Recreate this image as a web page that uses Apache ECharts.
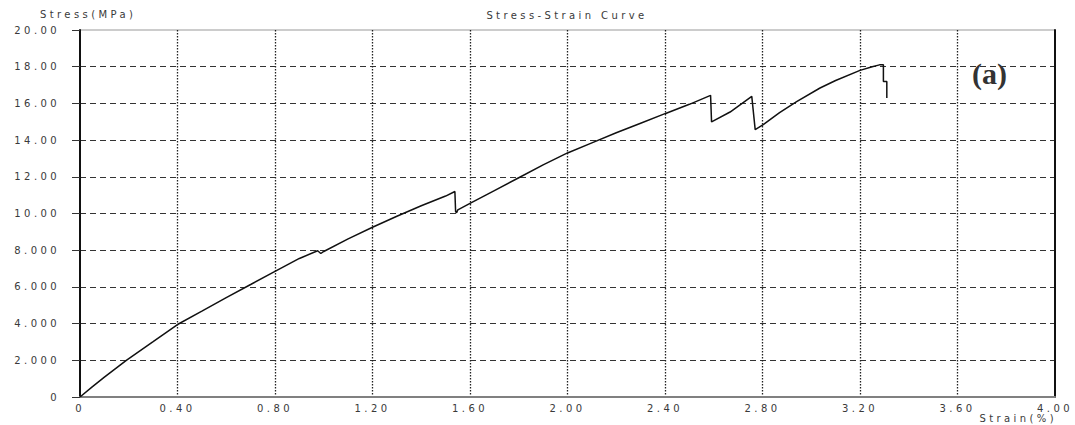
<!DOCTYPE html>
<html>
<head>
<meta charset="utf-8">
<script src="https://cdn.jsdelivr.net/npm/echarts@6/dist/echarts.min.js"></script>
<style>
  html, body { margin: 0; padding: 0; background: #fff; }
  #chart { width: 1075px; height: 425px; }
  #chart svg text { letter-spacing: 3.4px; }
</style>
</head>
<body>
<div id="chart"></div>
<script>
// ---- data ----
const strain = [0, 0.05, 0.1, 0.19, 0.3, 0.4, 0.5, 0.6, 0.7, 0.8, 0.9, 0.975, 0.988, 1.0, 1.1, 1.2, 1.3, 1.4, 1.5, 1.538,
  1.541, 1.545, 1.55, 1.6, 1.7, 1.8, 1.9, 2.0, 2.1, 2.2, 2.3, 2.4, 2.5, 2.587, 2.591, 2.667, 2.756, 2.77, 2.803, 2.87,
  2.94, 3.036, 3.1, 3.2, 3.25, 3.28, 3.296, 3.296, 3.31, 3.31];
const stress = [0, 0.55, 1.08, 2.0, 3.02, 3.95, 4.68, 5.42, 6.13, 6.85, 7.55, 7.97, 7.82, 7.93, 8.62, 9.25, 9.85, 10.42, 10.95, 11.2,
  10.1, 10.05, 10.2, 10.55, 11.25, 11.95, 12.65, 13.3, 13.85, 14.4, 14.92, 15.44, 15.95, 16.44, 14.99, 15.53, 16.38, 14.57, 14.84, 15.5,
  16.1, 16.84, 17.25, 17.8, 18.0, 18.1, 18.1, 17.2, 17.2, 16.3];
const xTickLabels = ["0", "0.40", "0.80", "1.20", "1.60", "2.00", "2.40", "2.80", "3.20", "3.60", "4.00"];
const yTickLabels = ["0", "2.000", "4.000", "6.000", "8.000", "10.00", "12.00", "14.00", "16.00", "18.00", "20.00"];
const chartTitle = "Stress-Strain Curve";
const xName = "Strain(%)";
const yName = "Stress(MPa)";
const panelLabel = "(a)";

const points = strain.map((s, i) => [s, stress[i]]);
const FONT = '"DejaVu Sans", sans-serif';
const TXT = '#3a3a3a';

const chart = echarts.init(document.getElementById('chart'), null, { renderer: 'svg' });
chart.setOption({
  animation: false,
  backgroundColor: '#fff',
  title: {
    text: chartTitle,
    left: 567, top: 10, textAlign: 'center', padding: 0,
    textStyle: { fontFamily: FONT, fontSize: 10, fontWeight: 'normal', color: TXT }
  },
  grid: {
    left: 80, right: 20, top: 30, bottom: 28, containLabel: false, outerBoundsMode: 'none',
    show: true, borderColor: '#999', borderWidth: 1, backgroundColor: 'transparent'
  },
  xAxis: [{
    type: 'value', min: 0, max: 4, interval: 0.4,
    axisLine: { show: true, lineStyle: { color: '#808080', width: 2 } },
    axisTick: { show: false },
    axisLabel: {
      margin: 6, fontFamily: FONT, fontSize: 10, color: TXT,
      formatter: (v) => xTickLabels[Math.round(v / 0.4)]
    },
    splitLine: { show: true, showMinLine: false, showMaxLine: false, lineStyle: { color: '#222', width: 1.3, type: [1.5, 1.5] } }
  }],
  yAxis: [{
    type: 'value', min: 0, max: 20, interval: 2,
    name: yName, nameLocation: 'end', nameGap: 11,
    nameTextStyle: { fontFamily: FONT, fontSize: 10, color: TXT, align: 'left', padding: [0, 0, 0, -40] },
    axisLine: { show: true, lineStyle: { color: '#111', width: 2 } },
    axisTick: { show: true, inside: false, length: 8, lineStyle: { color: '#333', width: 1 } },
    axisLabel: {
      margin: 20, fontFamily: FONT, fontSize: 10, color: TXT,
      formatter: (v) => yTickLabels[Math.round(v / 2)]
    },
    splitLine: { show: true, showMinLine: false, showMaxLine: false, lineStyle: { color: '#333', width: 1, type: [6, 4] } }
  }, {
    type: 'value', min: 0, max: 20, interval: 2, position: 'right',
    axisLine: { show: true, lineStyle: { color: '#111', width: 2 } },
    axisTick: { show: false }, axisLabel: { show: false }, splitLine: { show: false }
  }],
  graphic: [{
    type: 'text', x: 1057, y: 418,
    style: { text: xName, font: '10px "DejaVu Sans", sans-serif', fill: TXT, textAlign: 'right', textVerticalAlign: 'middle' }
  }, {
    type: 'text', left: 972, top: 58,
    style: { text: panelLabel, font: 'bold 30px "Liberation Serif", serif', fill: '#333' }
  }],
  series: [{
    type: 'line', data: points, xAxisIndex: 0, yAxisIndex: 0,
    showSymbol: false, smooth: false,
    lineStyle: { color: '#111', width: 1.5 }
  }]
});
function fixPanel() {
  document.querySelectorAll('#chart svg text').forEach(t => {
    if (t.textContent === panelLabel) t.style.letterSpacing = '0px';
  });
}
chart.on('finished', fixPanel);
fixPanel();
</script>
</body>
</html>
